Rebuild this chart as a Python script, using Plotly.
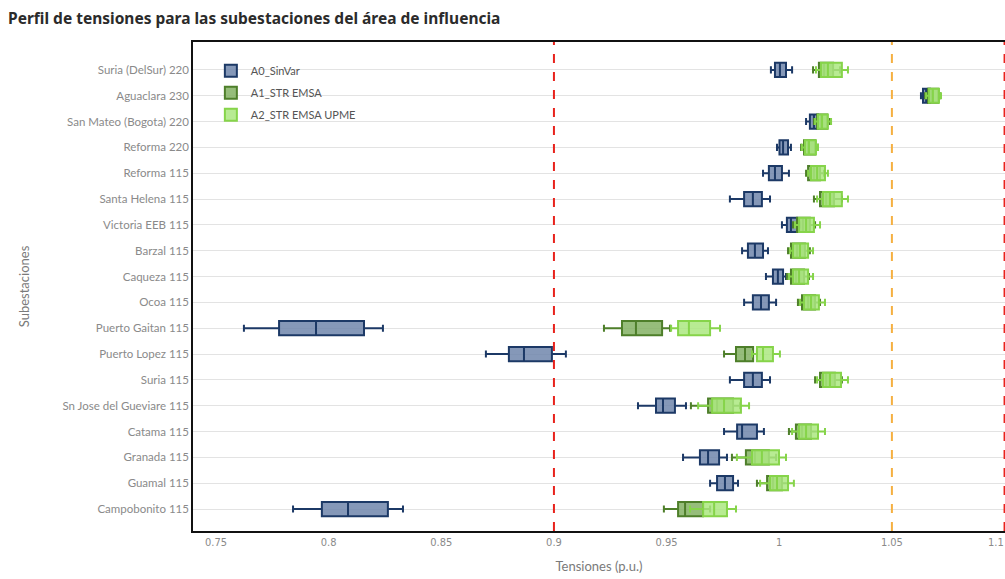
import plotly.graph_objects as go

# Substations, listed bottom to top
subestaciones = [
    "Campobonito 115", "Guamal 115", "Granada 115", "Catama 115",
    "Sn Jose del Gueviare 115", "Suria 115", "Puerto Lopez 115",
    "Puerto Gaitan 115", "Ocoa 115", "Caqueza 115", "Barzal 115",
    "Victoria EEB 115", "Santa Helena 115", "Reforma 115", "Reforma 220",
    "San Mateo (Bogota) 220", "Aguaclara 230", "Suria (DelSur) 220",
]

# Scenario A0_SinVar (p.u.)
a0_min = [0.7842, 0.9693, 0.9573, 0.9755, 0.9373, 0.9781, 0.8698, 0.7624, 0.9844,
          0.9941, 0.9835, 1.0012, 0.9781, 0.9928, 0.9990, 1.0119, 1.0629, 0.9963]
a0_q1 = [0.7970, 0.9724, 0.9648, 0.9813, 0.9453, 0.9844, 0.8800, 0.7780, 0.9883,
         0.9972, 0.9861, 1.0034, 0.9844, 0.9954, 1.0001, 1.0136, 1.0638, 0.9981]
a0_med = [0.8086, 0.9759, 0.9684, 0.9835, 0.9484, 0.9883, 0.8867, 0.7944, 0.9919,
          0.9994, 0.9892, 1.0052, 0.9883, 0.9981, 1.0017, 1.0154, 1.0652, 1.0003]
a0_q3 = [0.8263, 0.9795, 0.9733, 0.9901, 0.9537, 0.9923, 0.8991, 0.8157, 0.9954,
         1.0017, 0.9928, 1.0079, 0.9923, 1.0012, 1.0039, 1.0172, 1.0669, 1.0030]
a0_max = [0.8330, 0.9817, 0.9768, 0.9932, 0.9586, 0.9959, 0.9053, 0.8241, 0.9986,
          1.0030, 0.9950, 1.0092, 0.9959, 1.0043, 1.0052, 1.0181, 1.0682, 1.0057]

# Scenario A1_STR EMSA (p.u.)
a1_min = [0.9488, 0.9901, 0.9790, 1.0043, 0.9608, 1.0159, 0.9755, 0.9222, 1.0083,
          1.0034, 1.0039, 1.0061, 1.0154, 1.0119, 1.0097, 1.0154, 1.0647, 1.0150]
a1_q1 = [0.9551, 0.9946, 0.9852, 1.0074, 0.9684, 1.0181, 0.9808, 0.9302, 1.0101,
         1.0052, 1.0052, 1.0079, 1.0181, 1.0128, 1.0110, 1.0168, 1.0660, 1.0176]
a1_med = [0.9582, 0.9972, 0.9892, 1.0101, 0.9724, 1.0208, 0.9848, 0.9364, 1.0128,
          1.0074, 1.0079, 1.0105, 1.0208, 1.0154, 1.0128, 1.0185, 1.0678, 1.0199]
a1_q3 = [0.9662, 1.0012, 0.9954, 1.0141, 0.9795, 1.0247, 0.9884, 0.9480, 1.0159,
         1.0110, 1.0114, 1.0136, 1.0243, 1.0181, 1.0159, 1.0212, 1.0705, 1.0239]
a1_max = [0.9693, 1.0039, 0.9986, 1.0172, 0.9826, 1.0278, 0.9901, 0.9515, 1.0181,
          1.0132, 1.0136, 1.0159, 1.0278, 1.0199, 1.0172, 1.0225, 1.0713, 1.0270]

# Scenario A2_STR EMSA UPME (p.u.)
a2_min = [0.9604, 0.9915, 0.9812, 1.0057, 0.9640, 1.0168, 0.9879, 0.9520, 1.0092,
          1.0043, 1.0048, 1.0070, 1.0168, 1.0128, 1.0101, 1.0159, 1.0652, 1.0163]
a2_q1 = [0.9662, 0.9959, 0.9879, 1.0088, 0.9702, 1.0194, 0.9901, 0.9551, 1.0110,
         1.0061, 1.0061, 1.0088, 1.0194, 1.0141, 1.0114, 1.0172, 1.0665, 1.0185]
a2_med = [0.9711, 0.9990, 0.9923, 1.0119, 0.9755, 1.0225, 0.9928, 0.9599, 1.0141,
          1.0088, 1.0092, 1.0119, 1.0225, 1.0168, 1.0132, 1.0190, 1.0682, 1.0216]
a2_q3 = [0.9768, 1.0039, 0.9999, 1.0172, 0.9830, 1.0274, 0.9972, 0.9693, 1.0176,
         1.0128, 1.0128, 1.0154, 1.0278, 1.0203, 1.0163, 1.0216, 1.0709, 1.0278]
a2_max = [0.9808, 1.0065, 1.0030, 1.0203, 0.9866, 1.0305, 1.0003, 0.9737, 1.0203,
          1.0150, 1.0150, 1.0181, 1.0305, 1.0216, 1.0172, 1.0230, 1.0718, 1.0305]

# Voltage limits (p.u.)
limites = [0.9, 1.05, 1.1]
colores_limites = ["#e8221c", "#f5b041", "#e8221c"]

x_ticks = [0.75, 0.8, 0.85, 0.9, 0.95, 1.0, 1.05, 1.1]
x_tick_text = ["0.75", "0.8", "0.85", "0.9", "0.95", "1", "1.05", "1.1"]

escenarios = [
    ("A0_SinVar", a0_min, a0_q1, a0_med, a0_q3, a0_max, "#1c3966", "rgba(112,134,172,0.85)"),
    ("A1_STR EMSA", a1_min, a1_q1, a1_med, a1_q3, a1_max, "#4e7f2a", "rgba(132,178,100,0.85)"),
    ("A2_STR EMSA UPME", a2_min, a2_q1, a2_med, a2_q3, a2_max, "#86d44a", "rgba(172,232,128,0.85)"),
]

tick_font = dict(family="Liberation Sans Narrow, DejaVu Sans Condensed, sans-serif",
                 size=11, color="#8a8a8a")

fig = go.Figure()
for nombre, lo, q1, med, q3, hi, linea, relleno in escenarios:
    fig.add_trace(go.Box(
        name=nombre,
        legendgroup=nombre,
        y=subestaciones,
        orientation="h",
        lowerfence=lo, q1=q1, median=med, q3=q3, upperfence=hi,
        line=dict(color=linea, width=2),
        fillcolor=relleno,
        width=0.55,
        whiskerwidth=0.5,
        boxpoints=False,
        hoverinfo="skip",
    ))

for v, c in zip(limites, colores_limites):
    fig.add_shape(type="line", xref="x", yref="paper", x0=v, x1=v, y0=0, y1=1,
                  line=dict(color=c, width=2, dash="dash"), layer="above")

# Last tick label sits on the right edge of the figure, kept inside it
fig.add_annotation(x=x_ticks[-1], y=0, xref="x", yref="paper", xanchor="right",
                   yanchor="top", xshift=1, yshift=-3, text=x_tick_text[-1],
                   showarrow=False, font=tick_font)

fig.update_layout(
    width=1005, height=579,
    margin=dict(l=193, r=0, t=42, b=48),
    paper_bgcolor="white", plot_bgcolor="white",
    boxmode="overlay",
    font=dict(family="Lato, sans-serif", size=12, color="#7a7a7a"),
    title=dict(text="<b>Perfil de tensiones para las subestaciones del área de influencia</b>",
               x=0.008, xanchor="left", y=0.968, yanchor="middle",
               font=dict(family="Noto Sans, sans-serif", size=15.5, color="#2b2b2b")),
    legend=dict(x=0.022, y=0.971, xanchor="left", yanchor="top",
                bgcolor="rgba(0,0,0,0)", tracegroupgap=3,
                font=dict(family="Lato, sans-serif", size=11, color="#555555")),
    xaxis=dict(range=[0.7398, 1.1002], tickvals=x_ticks[:-1], ticktext=x_tick_text[:-1],
               showgrid=False, zeroline=False, showline=True, mirror=True,
               linecolor="#111111", linewidth=1.5, ticks="",
               tickfont=tick_font,
               title=dict(text="Tensiones (p.u.)", standoff=14,
                          font=dict(family="Lato, sans-serif", size=13, color="#7a7a7a"))),
    yaxis=dict(type="category", categoryorder="array", categoryarray=subestaciones,
               range=[-0.85, 18.08], showgrid=True, gridcolor="#e3e3e3", gridwidth=1,
               zeroline=False, showline=True, mirror=False,
               linecolor="#111111", linewidth=1.5, ticks="",
               tickfont=dict(family="Lato, sans-serif", size=11.5, color="#8a8a8a"),
               title=dict(text="Subestaciones", standoff=30,
                          font=dict(family="Lato, sans-serif", size=13, color="#7a7a7a"))),
)

fig.write_html("out.html")
